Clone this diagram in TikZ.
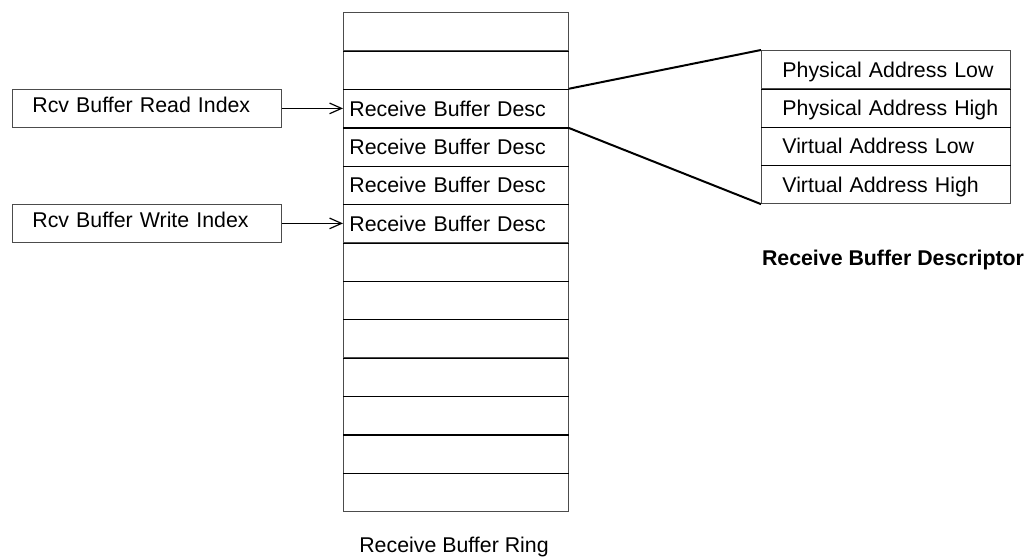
\documentclass[tikz,border=0pt]{standalone}
\usepackage{fontspec}
\setmainfont{Liberation Sans}
\usetikzlibrary{arrows.meta}
\begin{document}
\begin{tikzpicture}[x=0.75pt,y=-0.75pt,
  font=\fontsize{16}{19}\selectfont,
  ringcell/.style={draw=black!70, line width=0.6pt, anchor=north west,
    minimum width=168.75pt, minimum height=28.79pt, text width=159.75pt,
    inner xsep=4.5pt, inner ysep=0pt, align=left, text height=11.5pt, text depth=0pt},
  desccell/.style={draw=black!70, line width=0.6pt, anchor=north west,
    minimum width=186.75pt, minimum height=28.75pt, text width=155.25pt,
    inner xsep=15.75pt, inner ysep=0pt, align=left, text height=11.5pt, text depth=0pt},
  idxbox/.style={draw=black!70, line width=0.6pt, anchor=north west,
    minimum width=201.75pt, minimum height=28.5pt, text width=171.75pt,
    inner xsep=15pt, inner ysep=0pt, align=left, text height=11.5pt, text depth=5.5pt},
  divider/.style={draw=black, line width=0.9pt},
  link/.style={draw=black, line width=1.5pt},
  ptr/.style={draw=black, line width=0.9pt, -{Straight Barb[length=9pt,width=8pt,line width=0.9pt]}},
  caption/.style={inner sep=0pt}]
\path[use as bounding box] (0,0) rectangle (1027,559);

% ring
\node[ringcell] (r1) at (343,12) {};
\node[ringcell] (r2) at (343,50.385) {};
\node[ringcell] (r3) at (343,88.77) {Receive Buffer Desc};
\node[ringcell] (r4) at (343,127.155) {Receive Buffer Desc};
\node[ringcell] (r5) at (343,165.54) {Receive Buffer Desc};
\node[ringcell] (r6) at (343,203.925) {Receive Buffer Desc};
\node[ringcell] (r7) at (343,242.31) {};
\node[ringcell] (r8) at (343,280.695) {};
\node[ringcell] (r9) at (343,319.08) {};
\node[ringcell] (r10) at (343,357.465) {};
\node[ringcell] (r11) at (343,395.85) {};
\node[ringcell] (r12) at (343,434.235) {};
\node[ringcell] (r13) at (343,472.62) {};
\foreach \i in {1,...,12} {\draw[divider] (r\i.south west) -- (r\i.south east);}

\node[caption] (ringlabel) at (454,547) {Receive Buffer Ring};

% index boxes
\node[idxbox] (rdidx) at (12,89) {Rcv Buffer Read Index};
\node[idxbox] (wridx) at (12,204) {Rcv Buffer Write Index};
\draw[ptr] (rdidx.east) -- (r3.west |- rdidx.east);
\draw[ptr] (wridx.east) -- (r6.west |- wridx.east);

% descriptor
\node[desccell] (d1) at (761,50) {\mbox{Physical Address Low}};
\node[desccell] (d2) at (761,88.33) {\mbox{Physical Address High}};
\node[desccell] (d3) at (761,126.67) {\mbox{Virtual Address Low}};
\node[desccell] (d4) at (761,165) {\mbox{Virtual Address High}};
\foreach \i in {1,2,3} {\draw[divider] (d\i.south west) -- (d\i.south east);}
\node[caption, font=\fontsize{16}{19}\selectfont\bfseries] (desclabel) at (893,260) {Receive Buffer Descriptor};

\draw[link] (r3.north east) -- (d1.north west);
\draw[link] (r3.south east) -- (d4.south west);
\end{tikzpicture}
\end{document}
